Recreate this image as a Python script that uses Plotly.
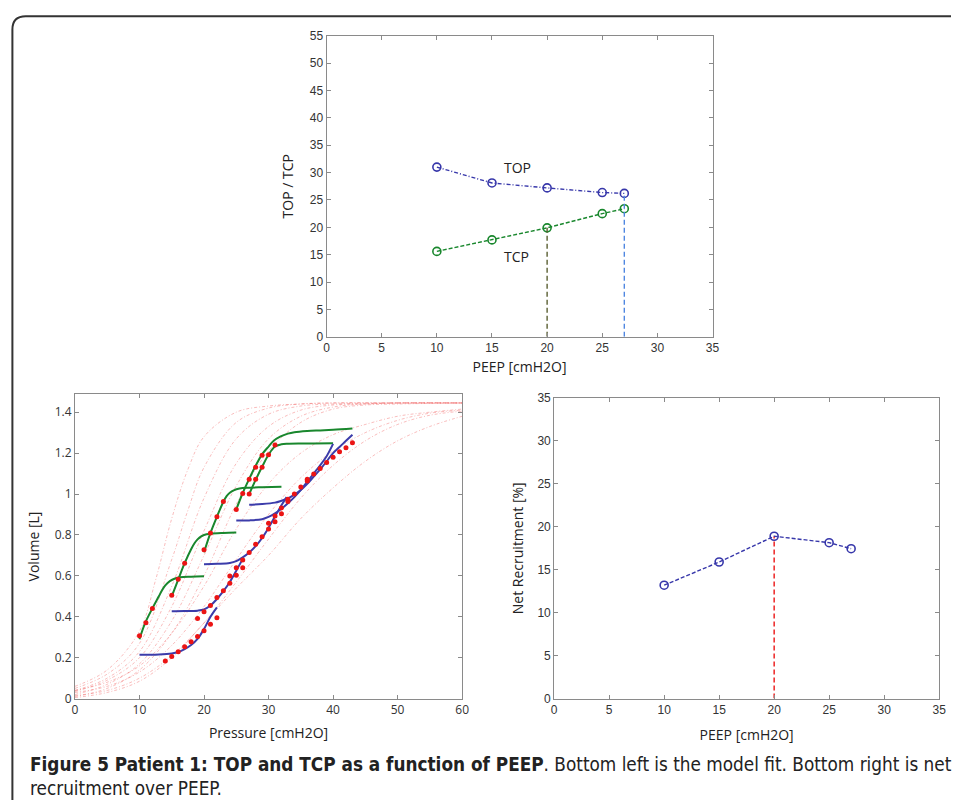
import plotly.graph_objects as go

# ---------------- data ----------------
peep = [10, 15, 20, 25, 27]
top_vals = [31.0, 28.1, 27.2, 26.35, 26.2]
tcp_vals = [15.6, 17.7, 19.9, 22.5, 23.4]
net_recruit = [13.2, 15.9, 18.9, 18.15, 17.45]

# measured PV points (red dots)
meas_p = [10, 11, 12, 15, 16, 17, 20, 21, 22, 23, 25, 26, 27, 27, 28, 28, 29, 29, 30, 31,
          14, 15, 16, 17, 18, 19, 19, 20, 20, 21, 21, 22, 22, 23, 24, 24, 25, 25, 26, 26,
          27, 28, 29, 30, 30, 31, 31, 32, 32, 33, 33, 34, 35, 36, 36, 37, 38, 39, 40, 41, 42, 43]
meas_v = [0.307, 0.371, 0.44, 0.505, 0.583, 0.662, 0.727, 0.81, 0.889, 0.964, 0.924, 1.002, 1.0, 1.072,
          1.072, 1.131, 1.131, 1.189, 1.192, 1.239,
          0.184, 0.206, 0.229, 0.254, 0.278, 0.304, 0.392, 0.332, 0.424, 0.363, 0.455, 0.395, 0.494,
          0.527, 0.564, 0.599, 0.603, 0.639, 0.639, 0.678, 0.714, 0.754, 0.791, 0.829, 0.857, 0.865,
          0.892, 0.903, 0.932, 0.963, 0.975, 1.0, 1.034, 1.064, 1.072, 1.098, 1.125, 1.154, 1.18,
          1.207, 1.226, 1.25]

# deflation model fits (green)
defl_p = [
    [10, 10.9, 12, 13, 13.5, 14, 14.7, 15.5, 16.3, 18, 20],
    [15, 16, 17, 18, 18.5, 19, 19.5, 20, 21, 23, 25],
    [20, 21, 22, 23, 23.5, 24, 24.6, 25.5, 27, 29, 32],
    [25, 26, 27, 28, 29, 30, 30.8, 31.8, 33, 34, 36, 38, 40, 43],
    [27, 28, 29, 30, 31, 32, 33, 35, 37, 40],
]
defl_v = [
    [0.29, 0.371, 0.441, 0.50, 0.53, 0.553, 0.574, 0.587, 0.593, 0.596, 0.598],
    [0.50, 0.582, 0.662, 0.73, 0.758, 0.778, 0.792, 0.80, 0.806, 0.81, 0.812],
    [0.715, 0.81, 0.889, 0.962, 0.99, 1.006, 1.018, 1.027, 1.031, 1.033, 1.035],
    [0.925, 1.005, 1.074, 1.138, 1.194, 1.232, 1.26, 1.28, 1.295, 1.302, 1.308, 1.311, 1.314, 1.32],
    [1.0, 1.069, 1.133, 1.192, 1.232, 1.243, 1.246, 1.247, 1.247, 1.248],
]

# inflation model fits (blue)
infl_p = [
    [10, 13, 15, 16, 17, 18, 19, 20, 21, 22],
    [15, 17, 19, 20, 21, 22, 23, 24, 25, 26],
    [20, 22, 24, 25, 26, 27, 28, 29, 30, 31, 32, 32.8],
    [25, 27, 29, 30, 31, 32, 33, 34, 35, 36, 37, 38, 39, 40],
    [27, 29, 31, 32, 33, 34, 35, 36, 37, 38, 39, 40, 41, 42, 43],
]
infl_v = [
    [0.214, 0.216, 0.221, 0.228, 0.242, 0.262, 0.292, 0.34, 0.40, 0.446],
    [0.427, 0.428, 0.43, 0.436, 0.455, 0.487, 0.525, 0.57, 0.625, 0.683],
    [0.657, 0.659, 0.663, 0.672, 0.69, 0.714, 0.745, 0.785, 0.835, 0.89, 0.945, 0.985],
    [0.870, 0.871, 0.877, 0.888, 0.905, 0.928, 0.955, 0.985, 1.02, 1.06, 1.10, 1.14, 1.185, 1.245],
    [0.948, 0.951, 0.958, 0.967, 0.978, 0.997, 1.02, 1.05, 1.085, 1.12, 1.16, 1.20, 1.23, 1.26, 1.29],
]

# model sigmoid curves (red dash-dot)
sig_p = [
    [0, 5, 10, 12.5, 15, 17.5, 20, 25, 30, 35, 40, 50, 60],
    [0, 5, 10, 15, 17.5, 20, 25, 30, 35, 40, 50, 60],
    [0, 5, 10, 15, 20, 25, 30, 35, 40, 50, 60],
    [0, 5, 10, 15, 20, 25, 30, 35, 40, 45, 50, 60],
    [0, 5, 10, 15, 20, 25, 30, 35, 40, 45, 50, 60],
    [0, 5, 10, 15, 20, 25, 30, 35, 40, 45, 50, 60],
    [0, 5, 10, 15, 20, 25, 30, 35, 40, 45, 50, 55, 60],
    [0, 5, 10, 15, 20, 25, 30, 35, 40, 45, 50, 55, 60],
    [0, 5, 10, 15, 20, 25, 30, 35, 40, 45, 50, 55, 60],
    [0, 5, 10, 15, 20, 25, 30, 35, 40, 45, 50, 55, 60],
]
sig_v = [
    [0.06, 0.14, 0.33, 0.58, 0.88, 1.12, 1.28, 1.40, 1.43, 1.44, 1.445, 1.445, 1.445],
    [0.05, 0.12, 0.27, 0.68, 0.92, 1.13, 1.35, 1.42, 1.44, 1.445, 1.445, 1.445],
    [0.04, 0.10, 0.23, 0.55, 0.98, 1.27, 1.39, 1.43, 1.44, 1.445, 1.445],
    [0.035, 0.09, 0.20, 0.45, 0.82, 1.15, 1.33, 1.41, 1.435, 1.44, 1.445, 1.445],
    [0.02, 0.07, 0.17, 0.38, 0.70, 1.04, 1.27, 1.38, 1.425, 1.44, 1.445, 1.445],
    [0.01, 0.05, 0.14, 0.32, 0.60, 0.95, 1.21, 1.35, 1.415, 1.435, 1.44, 1.445],
    [0.04, 0.08, 0.16, 0.32, 0.55, 0.83, 1.05, 1.20, 1.29, 1.34, 1.38, 1.40, 1.415],
    [0.03, 0.06, 0.13, 0.26, 0.45, 0.68, 0.90, 1.08, 1.21, 1.30, 1.36, 1.395, 1.41],
    [0.015, 0.04, 0.10, 0.21, 0.37, 0.57, 0.78, 0.98, 1.14, 1.26, 1.34, 1.385, 1.405],
    [0.005, 0.03, 0.085, 0.20, 0.37, 0.54, 0.70, 0.88, 1.03, 1.16, 1.26, 1.33, 1.38],
]

# tick labels
top_xticks = [0, 5, 10, 15, 20, 25, 30, 35]
top_yticks = [0, 5, 10, 15, 20, 25, 30, 35, 40, 45, 50, 55]
pv_xticks = [0, 10, 20, 30, 40, 50, 60]
pv_yticks = [0, 0.2, 0.4, 0.6, 0.8, 1.0, 1.2, 1.4]
pv_ylabels = ["0", "0.2", "0.4", "0.6", "0.8", "1", "1.2", "1.4"]
nr_xticks = [0, 5, 10, 15, 20, 25, 30, 35]
nr_yticks = [0, 5, 10, 15, 20, 25, 30, 35]

# ---------------- figure ----------------
W, H = 958, 808
BLUE = "rgb(55,55,170)"
GREEN = "rgb(25,135,45)"
RED = "rgb(235,20,20)"

fig = go.Figure()

# top: TOP / TCP
fig.add_trace(go.Scatter(x=peep, y=top_vals, mode="lines+markers", xaxis="x", yaxis="y",
                         line=dict(color=BLUE, width=1.4, dash="4px,2px,1px,2px"),
                         marker=dict(symbol="circle-open", size=8, color=BLUE, line=dict(width=1.6))))
fig.add_trace(go.Scatter(x=peep, y=tcp_vals, mode="lines+markers", xaxis="x", yaxis="y",
                         line=dict(color=GREEN, width=1.4, dash="4px,2px"),
                         marker=dict(symbol="circle-open", size=8, color=GREEN, line=dict(width=1.6))))
fig.add_trace(go.Scatter(x=[peep[2], peep[2]], y=[0, tcp_vals[2]], mode="lines", xaxis="x", yaxis="y",
                         line=dict(color="rgb(90,95,50)", width=1.4, dash="5px,3px")))
fig.add_trace(go.Scatter(x=[peep[4], peep[4]], y=[0, top_vals[4]], mode="lines", xaxis="x", yaxis="y",
                         line=dict(color="rgb(80,135,225)", width=1.4, dash="5px,3px")))

# bottom left: PV model fit
for sx, sy in zip(sig_p, sig_v):
    fig.add_trace(go.Scatter(x=sx, y=sy, mode="lines", xaxis="x2", yaxis="y2", line_shape="spline",
                             line=dict(color="rgba(240,90,90,0.4)", width=1, dash="3px,2px,1px,2px")))
for px_, py_ in zip(defl_p, defl_v):
    fig.add_trace(go.Scatter(x=px_, y=py_, mode="lines", xaxis="x2", yaxis="y2", line_shape="spline",
                             line=dict(color=GREEN, width=2)))
for px_, py_ in zip(infl_p, infl_v):
    fig.add_trace(go.Scatter(x=px_, y=py_, mode="lines", xaxis="x2", yaxis="y2", line_shape="spline",
                             line=dict(color="rgb(60,60,170)", width=2)))
fig.add_trace(go.Scatter(x=meas_p, y=meas_v, mode="markers", xaxis="x2", yaxis="y2",
                         marker=dict(color=RED, size=5)))

# bottom right: net recruitment
fig.add_trace(go.Scatter(x=[peep[2], peep[2]], y=[0, net_recruit[2]], mode="lines", xaxis="x3", yaxis="y3",
                         line=dict(color=RED, width=1.4, dash="5px,3px")))
fig.add_trace(go.Scatter(x=peep, y=net_recruit, mode="lines+markers", xaxis="x3", yaxis="y3",
                         line=dict(color=BLUE, width=1.4, dash="4px,2px"),
                         marker=dict(symbol="circle-open", size=8, color=BLUE, line=dict(width=1.6))))

AX = dict(showgrid=False, zeroline=False, showline=True, linecolor="#8a8a8a", linewidth=1,
          mirror="allticks", ticks="inside", ticklen=4, tickcolor="#8a8a8a",
          tickfont=dict(family="Liberation Sans, Arial", size=12, color="#333"),
          title_font=dict(family="Open Sans", size=14, color="#222"))


def px2x(p):
    return p / W


def py2y(p):
    return 1 - p / H


fig.update_layout(
    width=W, height=H, margin=dict(l=0, r=0, t=0, b=0),
    paper_bgcolor="white", plot_bgcolor="white", showlegend=False,
    xaxis=dict(AX, domain=[px2x(327), px2x(717)], range=[0, 35], tickvals=top_xticks,
               anchor="y", title=dict(text="PEEP [cmH2O]", standoff=8)),
    yaxis=dict(AX, domain=[py2y(336), py2y(29.3)], range=[0, 55], tickvals=top_yticks,
               anchor="x", title=dict(text="TOP / TCP", standoff=12)),
    xaxis2=dict(AX, domain=[px2x(72.7), px2x(464)], range=[0, 60], tickvals=pv_xticks,
                anchor="y2", title=dict(text="Pressure [cmH2O]", standoff=11),
                tickfont=dict(family="Open Sans", size=12, color="#333")),
    yaxis2=dict(AX, domain=[py2y(704.7), py2y(394.7)], range=[0, 1.487], tickvals=pv_yticks,
                ticktext=pv_ylabels, anchor="x2", title=dict(text="Volume [L]", standoff=11),
                tickfont=dict(family="Open Sans", size=12, color="#333")),
    xaxis3=dict(AX, domain=[px2x(557), px2x(946)], range=[0, 35], tickvals=nr_xticks,
                anchor="y3", title=dict(text="PEEP [cmH2O]", standoff=14)),
    yaxis3=dict(AX, domain=[py2y(704.7), py2y(398.3)], range=[0, 35], tickvals=nr_yticks,
                anchor="x3", title=dict(text="Net Recruitment [%]", standoff=10)),
)

fig.add_annotation(x=17.3, y=31.0, xref="x", yref="y", text="TOP", showarrow=False,
                   font=dict(family="Open Sans", size=14, color="#222"))
fig.add_annotation(x=17.2, y=14.6, xref="x", yref="y", text="TCP", showarrow=False,
                   font=dict(family="Open Sans", size=14, color="#222"))

# caption
fig.add_annotation(
    x=px2x(25), y=py2y(759), xref="paper", yref="paper", xanchor="left", yanchor="top",
    align="left", showarrow=False,
    text=("<b>Figure 5 Patient 1: TOP and TCP as a function of PEEP</b>. Bottom left is the model fit. "
          "Bottom right is net<br>recruitment over PEEP."),
    font=dict(family="Liberation Sans Narrow, DejaVu Sans Condensed, Open Sans", size=18.8, color="#222"),
)

# outer frame with rounded corner
fig.add_shape(type="path", xref="paper", yref="paper",
              path=(f"M {px2x(9.5)},0 L {px2x(9.5)},{py2y(23)} "
                    f"Q {px2x(9.5)},{py2y(9.5)} {px2x(23)},{py2y(9.5)} L 1,{py2y(9.5)}"),
              line=dict(color="#333", width=2))

fig.write_html(
    "out.html",
    config={"displayModeBar": False},
    post_script=("document.documentElement.style.margin='0';document.body.style.margin='0';"
                 "document.body.style.padding='0';document.body.style.overflow='hidden';"),
)
